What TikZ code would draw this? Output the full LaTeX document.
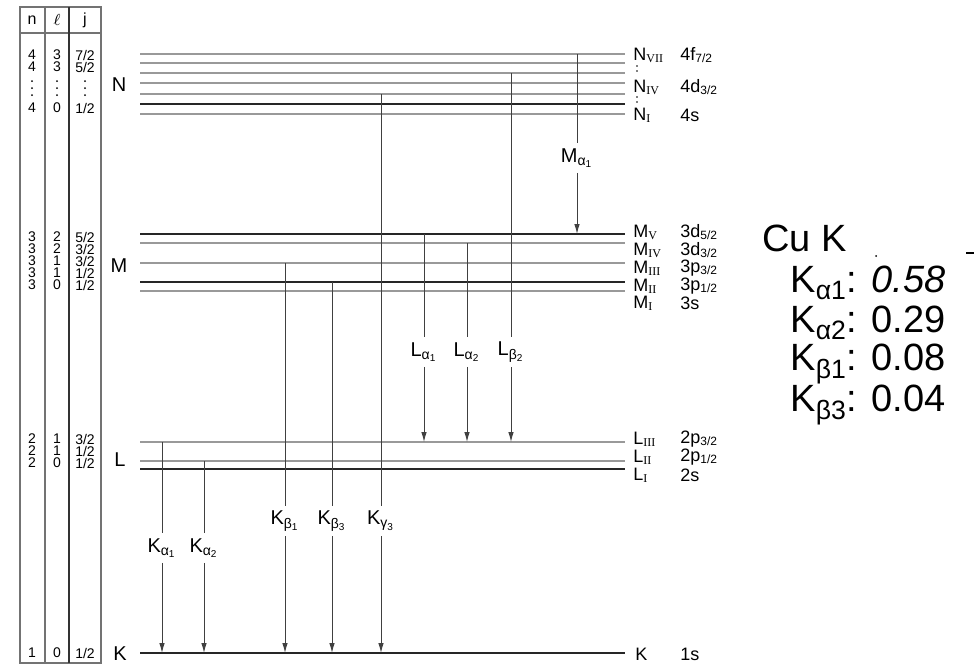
\documentclass[tikz,border=0pt]{standalone}
\usepackage{fontspec}
\setmainfont{Liberation Sans}
\newfontfamily\romfont{Liberation Serif}
\usetikzlibrary{arrows.meta}
\newcommand{\rsub}[1]{\textsubscript{\romfont #1}}
\newcommand{\jj}[1]{\textsubscript{#1/2}}
\newcommand{\fr}[1]{#1/2}

\begin{document}
\begin{tikzpicture}[x=0.5pt,y=-0.5pt,
  dark/.style={black!85,line width=0.7pt},
  pale/.style={black!40,line width=0.8pt},
  tbl/.style={black!55,line width=0.6pt},
  trans/.style={black!75,line width=0.5pt},
  tip/.style={-{Latex[length=5pt,width=2.8pt]}},
  lvl/.style={anchor=west,inner sep=0pt,font=\fontsize{9}{10}\selectfont},
  shell/.style={inner sep=0pt,font=\fontsize{10}{11}\selectfont},
  cell/.style={inner sep=0pt,font=\fontsize{7}{8}\selectfont},
  tlab/.style={inner sep=2.5pt,font=\fontsize{10}{11}\selectfont},
  big/.style={anchor=west,inner sep=0pt,font=\fontsize{19}{21}\selectfont}]
  \useasboundingbox (0,0) rectangle (978,666);
  % quantum number table
  \draw[tbl] (20,7) rectangle (101,663);
  \draw[tbl] (45,7) -- (45,663) (20,33) -- (101,33);
  \draw[black!80,line width=0.7pt] (69,7) -- (69,663);
  \node[cell,font=\fontsize{8}{9}\selectfont] (hn) at (32,20) {n};
  \node[cell,font=\fontsize{8}{9}\selectfont] (hl) at (57,20) {$\ell$};
  \node[cell,font=\fontsize{8}{9}\selectfont] (hj) at (85,20) {j};
  \foreach \y/\n/\l/\j in {55/4/3/7,67/4/3/5,108/4/0/1,
    237/3/2/5,249/3/2/3,261/3/1/3,273/3/1/1,285/3/0/1,
    439/2/1/3,451/2/1/1,463/2/0/1,653/1/0/1} {
    \node[cell] (n\y) at (32,\y) {\n};
    \node[cell] (l\y) at (57,\y) {\l};
    \node[cell] (j\y) at (85,\y) {\fr{\j}};
  }
  \foreach \x in {32,57,85}
    \foreach \y in {81,88,95} \fill (\x,\y) circle (1);
  % shells
  \node[shell] (sN) at (119,85) {N};
  \node[shell] (sM) at (119,266) {M};
  \node[shell] (sL) at (120,460) {L};
  \node[shell] (sK) at (120,654) {K};
  % levels
  \foreach \nm/\y/\st in {NVII/54/pale,NVI/63/pale,NV/73/pale,NIV/83/pale,
    NIII/94/pale,NII/104/dark,NI/114/pale,MV/234/dark,MIV/243/pale,
    MIII/263/pale,MII/282/dark,MI/291/pale,LIII/442/pale,LII/461/pale,
    LI/469/dark,K/653/dark}
    \draw[\st] (140,\y) coordinate (\nm) -- (625,\y) coordinate (\nm r);
  % level names
  \foreach \nm/\y/\s/\r/\o in {NVII/55/N/VII/4f\jj{7},NIV/87/N/IV/4d\jj{3},NI/115/N/I/4s,
    MV/232/M/V/3d\jj{5},MIV/250/M/IV/3d\jj{3},MIII/268/M/III/3p\jj{3},
    MII/286/M/II/3p\jj{1},MI/303/M/I/3s,
    LIII/439/L/III/2p\jj{3},LII/457/L/II/2p\jj{1},LI/475/L/I/2s} {
    \node[lvl] (n\nm) at (633,\y) {\s\rsub{\r}};
    \node[lvl] (o\nm) at (680,\y) {\o};
  }
  \node[lvl] (nK) at (635,654) {K};
  \node[lvl] (oK) at (680,654) {1s};
  \foreach \y in {66,71,97,102} \fill (637,\y) circle (0.9);
  % transitions
  \node[tlab] (Ma1) at (577,158) {M\textsubscript{α\textsubscript{1}}};
  \node[tlab] (La1) at (424,352) {L\textsubscript{α\textsubscript{1}}};
  \node[tlab] (La2) at (467,352) {L\textsubscript{α\textsubscript{2}}};
  \node[tlab] (Lb2) at (511,352) {L\textsubscript{β\textsubscript{2}}};
  \node[tlab] (Ka1) at (162,548) {K\textsubscript{α\textsubscript{1}}};
  \node[tlab] (Ka2) at (204,548) {K\textsubscript{α\textsubscript{2}}};
  \node[tlab] (Kb1) at (285,521) {K\textsubscript{β\textsubscript{1}}};
  \node[tlab] (Kb3) at (332,521) {K\textsubscript{β\textsubscript{3}}};
  \node[tlab] (Kg3) at (381,521) {K\textsubscript{γ\textsubscript{3}}};
  \foreach \lab/\up/\dn in {Ma1/NVII/MV,La1/MV/LIII,La2/MIV/LIII,Lb2/NV/LIII,
    Ka1/LIII/K,Ka2/LII/K,Kb1/MIII/K,Kb3/MII/K,Kg3/NIII/K} {
    \draw[trans] (\up -| \lab) -- (\lab);
    \draw[trans,tip] (\lab) -- (\lab |- \dn);
  }
  % Cu K line ratios
  \node[big] (cu) at (762,238) {Cu K};
  \node[big] (ka1) at (790,283) {K\textsubscript{α1}: \textit{0.58}};
  \node[big] (ka2) at (790,323) {K\textsubscript{α2}: 0.29};
  \node[big] (kb1) at (790,364) {K\textsubscript{β1}: 0.08};
  \node[big] (kb3) at (790,405) {K\textsubscript{β3}: 0.04};
  \fill (876,256) circle (1);
  \draw[line width=0.6pt] (966,253) -- (974,253);
\end{tikzpicture}
\end{document}
